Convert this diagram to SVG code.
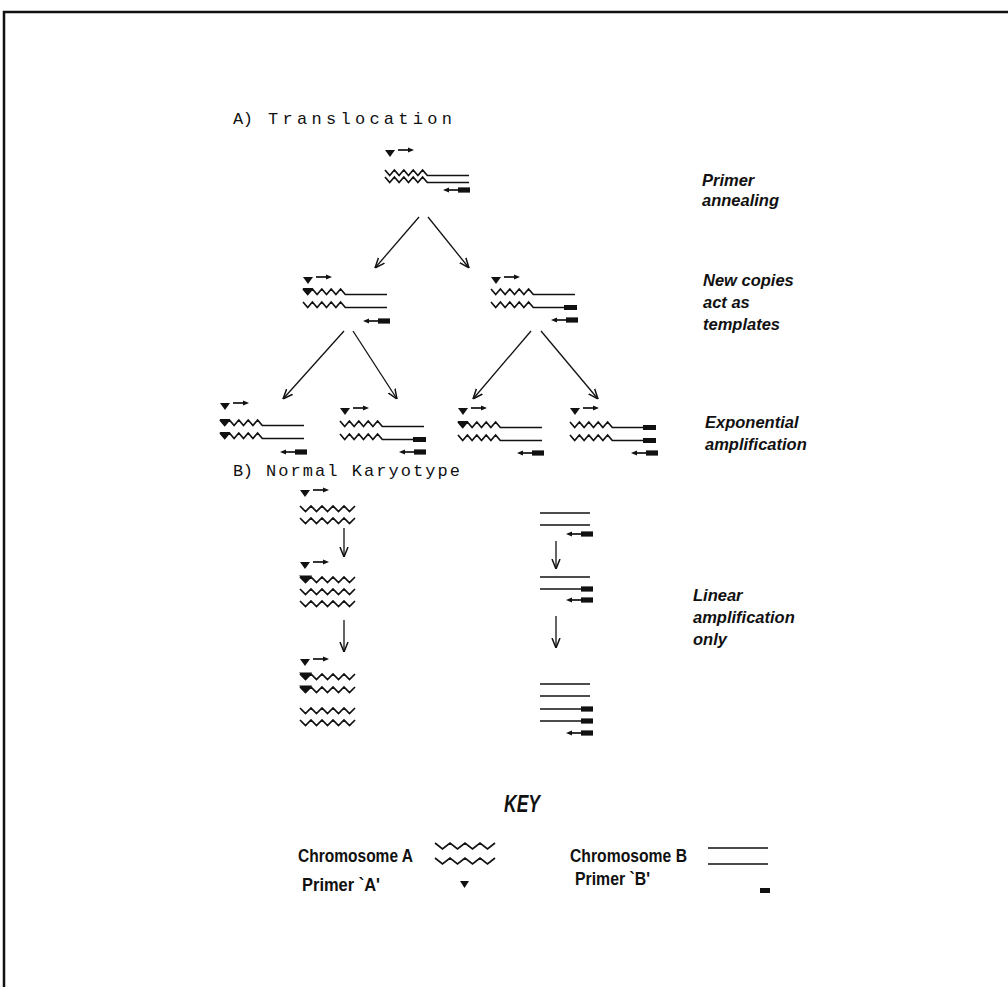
<svg xmlns="http://www.w3.org/2000/svg" xmlns:xlink="http://www.w3.org/1999/xlink" width="1008" height="987" viewBox="0 0 1008 987">
<style>
.ln{fill:none;stroke:#111;stroke-width:1.7}
.fl{fill:#111;stroke:none}
.plot{font-family:"Liberation Mono","DejaVu Sans Mono",monospace;font-size:17px;fill:#111}
.lab{font-family:"Liberation Sans",Arial,sans-serif;font-style:italic;font-weight:bold;font-size:16.5px;fill:#111}
.key{font-family:"Liberation Sans Narrow","Liberation Sans",Arial,sans-serif;font-weight:bold;font-size:18px;fill:#111}
.keyt{font-family:"Liberation Sans Narrow","Liberation Sans",Arial,sans-serif;font-style:italic;font-weight:bold;font-size:23px;fill:#111}
.conn line{stroke:#111;stroke-width:1.3;marker-end:url(#ah)}
</style>
<defs>
<marker id="ah" viewBox="0 0 10 10" refX="10" refY="5" markerWidth="10" markerHeight="10" markerUnits="userSpaceOnUse" orient="auto">
<path d="M0,1 L10,5 L0,9" fill="none" stroke="#111" stroke-width="1.5"/>
</marker>
<path id="rowA" class="ln" d="M0,0 l4.7,5.5 l4.7,-5.5 l4.7,5.5 l4.7,-5.5 l4.7,5.5 l4.7,-5.5 l4.7,5.5 l4.7,-5.5 l4.7,5.5 H84"/>
<polygon id="triOn" class="fl" points="-0.5,-1 10,-1 4.7,6"/>
<rect id="blkEnd" class="fl" x="73" y="3" width="13" height="5"/>
<g id="pa"><polygon class="fl" points="0,0 10,0 5,7"/><path class="ln" d="M13,0 H24"/><polygon class="fl" points="23,-2.5 29,0 23,2.5"/></g>
<g id="pb"><polygon class="fl" points="0,0 6,-2.5 6,2.5"/><path class="ln" d="M5,0 H16"/><rect class="fl" x="15" y="-2.6" width="12" height="5.2"/></g>
<path id="wv5" class="ln" d="M0,0 l5.5,5.5 l5.5,-5.5 l5.5,5.5 l5.5,-5.5 l5.5,5.5 l5.5,-5.5 l5.5,5.5 l5.5,-5.5 l5.5,5.5 l5.5,-5.5"/>
<polygon id="triOn5" class="fl" points="-1,-1.5 12,-1.5 5.5,6"/>
<path id="lnB" class="ln" d="M0,0 H50"/>
<rect id="blkB" class="fl" x="41" y="-2.6" width="12" height="5.2"/>
</defs>

<path d="M4,987 V12 H1008" fill="none" stroke="#111" stroke-width="2.5"/>

<g id="title-a">
<text class="plot" x="233" y="124" textLength="20" lengthAdjust="spacing">A)</text>
<text class="plot" x="268" y="124" textLength="184" lengthAdjust="spacing">Translocation</text>
</g>

<g id="step0">
<use xlink:href="#pa" x="385" y="150"/>
<use xlink:href="#rowA" x="385" y="170"/>
<use xlink:href="#rowA" x="385" y="177"/>
<use xlink:href="#pb" x="443" y="190"/>
</g>

<g id="step1-left">
<use xlink:href="#pa" x="303" y="277"/>
<use xlink:href="#rowA" x="303" y="289"/>
<use xlink:href="#triOn" x="303" y="289"/>
<use xlink:href="#rowA" x="303" y="302"/>
<use xlink:href="#pb" x="363" y="321"/>
</g>

<g id="step1-right">
<use xlink:href="#pa" x="491" y="277"/>
<use xlink:href="#rowA" x="491" y="289"/>
<use xlink:href="#rowA" x="491" y="302"/>
<use xlink:href="#blkEnd" x="491" y="302"/>
<use xlink:href="#pb" x="551" y="320"/>
</g>

<g id="step2-1">
<use xlink:href="#pa" x="220" y="403"/>
<use xlink:href="#rowA" x="220" y="420"/>
<use xlink:href="#triOn" x="220" y="420"/>
<use xlink:href="#rowA" x="220" y="433"/>
<use xlink:href="#triOn" x="220" y="433"/>
<use xlink:href="#pb" x="280" y="452"/>
</g>

<g id="step2-2">
<use xlink:href="#pa" x="340" y="408"/>
<use xlink:href="#rowA" x="340" y="421"/>
<use xlink:href="#rowA" x="340" y="434"/>
<use xlink:href="#blkEnd" x="340" y="434"/>
<use xlink:href="#pb" x="399" y="452"/>
</g>

<g id="step2-3">
<use xlink:href="#pa" x="458" y="408"/>
<use xlink:href="#rowA" x="458" y="422"/>
<use xlink:href="#triOn" x="458" y="422"/>
<use xlink:href="#rowA" x="458" y="435"/>
<use xlink:href="#pb" x="517" y="453"/>
</g>

<g id="step2-4">
<use xlink:href="#pa" x="570" y="408"/>
<use xlink:href="#rowA" x="570" y="422"/>
<use xlink:href="#blkEnd" x="570" y="422"/>
<use xlink:href="#rowA" x="570" y="435"/>
<use xlink:href="#blkEnd" x="570" y="435"/>
<use xlink:href="#pb" x="631" y="453"/>
</g>

<g id="labels-a">
<text class="lab" x="702" y="186">Primer</text>
<text class="lab" x="702" y="206">annealing</text>
<text class="lab" x="703" y="286">New copies</text>
<text class="lab" x="703" y="308">act  as</text>
<text class="lab" x="703" y="330">templates</text>
<text class="lab" x="705" y="428">Exponential</text>
<text class="lab" x="705" y="450">amplification</text>
</g>

<g id="title-b">
<text class="plot" x="233" y="476" textLength="20" lengthAdjust="spacing">B)</text>
<text class="plot" x="266" y="476" textLength="194" lengthAdjust="spacing">Normal Karyotype</text>
</g>

<g id="normal-a">
<use xlink:href="#pa" x="300" y="490"/>
<use xlink:href="#wv5" x="300" y="506"/>
<use xlink:href="#wv5" x="300" y="518"/>
<use xlink:href="#pa" x="300" y="562"/>
<use xlink:href="#wv5" x="300" y="577"/>
<use xlink:href="#triOn5" x="300" y="577"/>
<use xlink:href="#wv5" x="300" y="589"/>
<use xlink:href="#wv5" x="300" y="601"/>
<use xlink:href="#pa" x="300" y="659"/>
<use xlink:href="#wv5" x="300" y="674"/>
<use xlink:href="#triOn5" x="300" y="674"/>
<use xlink:href="#wv5" x="300" y="687"/>
<use xlink:href="#triOn5" x="300" y="687"/>
<use xlink:href="#wv5" x="300" y="708"/>
<use xlink:href="#wv5" x="300" y="720"/>
</g>

<g id="normal-b">
<use xlink:href="#lnB" x="540" y="513"/>
<use xlink:href="#lnB" x="540" y="525"/>
<use xlink:href="#pb" x="566" y="534"/>
<use xlink:href="#lnB" x="540" y="577"/>
<use xlink:href="#lnB" x="540" y="589"/>
<use xlink:href="#blkB" x="540" y="589"/>
<use xlink:href="#pb" x="566" y="600"/>
<use xlink:href="#lnB" x="540" y="684"/>
<use xlink:href="#lnB" x="540" y="696"/>
<use xlink:href="#lnB" x="540" y="709"/>
<use xlink:href="#blkB" x="540" y="709"/>
<use xlink:href="#lnB" x="540" y="721"/>
<use xlink:href="#blkB" x="540" y="721"/>
<use xlink:href="#pb" x="566" y="733"/>
</g>

<g id="labels-b">
<text class="lab" x="693" y="601">Linear</text>
<text class="lab" x="693" y="623">amplification</text>
<text class="lab" x="693" y="645">only</text>
</g>

<g id="connectors" class="conn">
<line x1="419" y1="217" x2="375" y2="268"/>
<line x1="428" y1="217" x2="469" y2="268"/>
<line x1="344" y1="331" x2="283" y2="399"/>
<line x1="353" y1="331" x2="397" y2="399"/>
<line x1="531" y1="331" x2="473" y2="399"/>
<line x1="541" y1="331" x2="598" y2="399"/>
<line x1="344" y1="528" x2="344" y2="557"/>
<line x1="344" y1="620" x2="344" y2="652"/>
<line x1="556" y1="541" x2="556" y2="569"/>
<line x1="556" y1="616" x2="556" y2="648"/>
</g>

<g id="key">
<text class="keyt" x="504" y="812" textLength="36" lengthAdjust="spacingAndGlyphs">KEY</text>
<text class="key" x="298" y="862" textLength="115" lengthAdjust="spacingAndGlyphs">Chromosome A</text>
<path class="ln" d="M435,843 l7.5,6 l7.5,-6 l7.5,6 l7.5,-6 l7.5,6 l7.5,-6 l7.5,6 l7.5,-6"/>
<path class="ln" d="M435,858 l7.5,6 l7.5,-6 l7.5,6 l7.5,-6 l7.5,6 l7.5,-6 l7.5,6 l7.5,-6"/>
<text class="key" x="570" y="862" textLength="117" lengthAdjust="spacingAndGlyphs">Chromosome B</text>
<path class="ln" d="M708,848 H768 M708,864 H768"/>
<text class="key" x="302" y="891" textLength="78" lengthAdjust="spacingAndGlyphs">Primer `A'</text>
<polygon class="fl" points="460,881 469,881 464.5,888"/>
<text class="key" x="575" y="885" textLength="75" lengthAdjust="spacingAndGlyphs">Primer `B'</text>
<rect class="fl" x="760" y="888" width="10" height="5"/>
</g>
</svg>
